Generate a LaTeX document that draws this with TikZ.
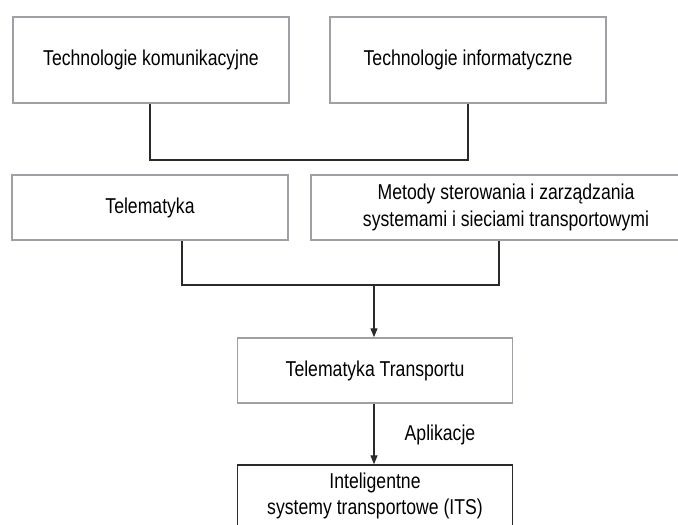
\documentclass[tikz,border=0pt]{standalone}
\usepackage{fontspec}
\setmainfont{Liberation Sans}[FakeStretch=0.82]
\usetikzlibrary{arrows.meta}
\definecolor{boxgray}{HTML}{9DA1A6}
\definecolor{linedark}{HTML}{2A2A2A}
\tikzset{
  txt/.style={font=\fontsize{21.5}{26.5}\selectfont, align=center, inner sep=0pt},
  graybox/.style={txt, draw=boxgray, line width=1.5pt, fill=white},
  darkbox/.style={txt, draw=linedark, line width=1.4pt, fill=white},
  conn/.style={draw=linedark, line width=1.3pt},
  arr/.style={conn, -{Triangle[length=9pt,width=7pt]}}
}
\begin{document}
\begin{tikzpicture}[x=1pt,y=-1pt]
  \useasboundingbox (0,0) rectangle (678,525);
  \node[graybox, minimum width=276pt, minimum height=86pt] (k) at (151,60) {Technologie komunikacyjne};
  \node[graybox, minimum width=276pt, minimum height=86pt] (i) at (468,60) {Technologie informatyczne};
  \node[graybox, minimum width=276pt, minimum height=65pt] (t) at (150,207.5) {Telematyka};
  \node[graybox, minimum width=390pt, minimum height=65pt] (m) at (506,207.5) {Metody sterowania i zarządzania\\systemami i sieciami transportowymi};
  \node[graybox, minimum width=275pt, minimum height=65pt] (tt) at (375,370.5) {Telematyka Transportu};
  \node[darkbox, minimum width=275pt, minimum height=62pt] (its) at (375,496) {Inteligentne\\systemy transportowe (ITS)};
  \node[txt] (apl) at (440,435) {Aplikacje};

  \coordinate (j1) at (150,160);
  \coordinate (j2) at (468,160);
  \draw[conn] (k.south -| j1) -- (j1) -- (j2) -- (i.south -| j2);

  \coordinate (b1) at (182,285);
  \coordinate (b2) at (499,285);
  \coordinate (bm) at (374,285);
  \draw[conn] (t.south -| b1) -- (b1) -- (b2) -- (m.south -| b2);
  \draw[arr] (bm) -- (bm |- tt.north);
  \draw[arr] (bm |- tt.south) -- (bm |- its.north);
\end{tikzpicture}
\end{document}
